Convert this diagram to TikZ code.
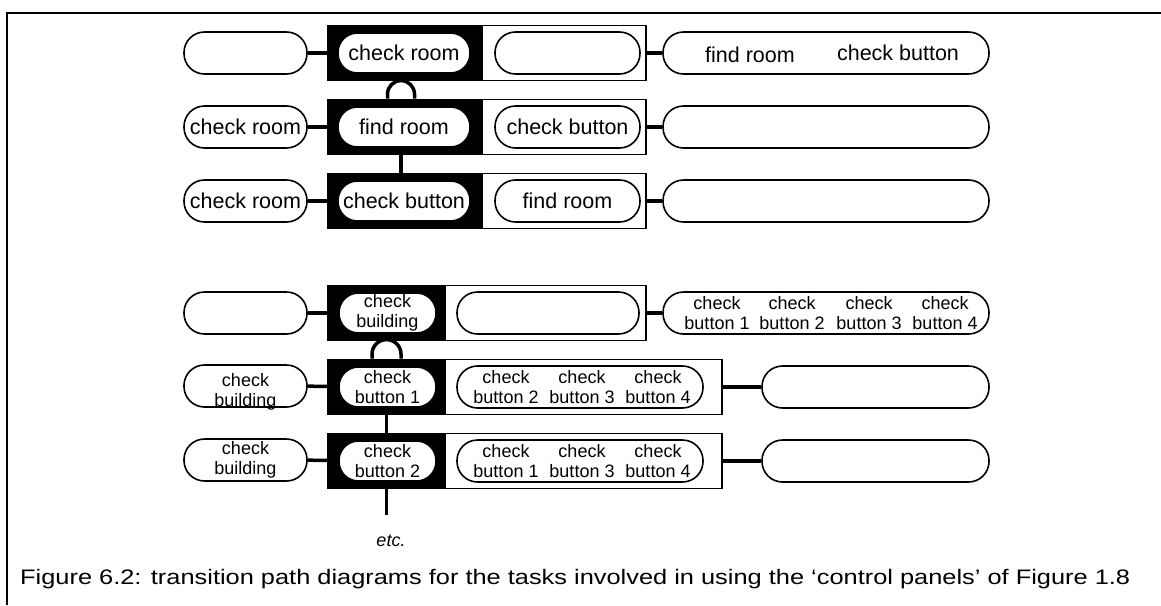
\documentclass[tikz,border=0pt]{standalone}
\usepackage{fontspec}
\setmainfont{Liberation Sans}
\usetikzlibrary{positioning}

\begin{document}
\begin{tikzpicture}[x=1pt,y=-1pt,
    pill/.style={draw,line width=1.6pt,fill=white,rounded corners=20.5pt,
      minimum width=#1,minimum height=42pt,inner sep=0pt,align=center},
    inpill/.style={pill=#1,minimum height=40pt,rounded corners=19.5pt},
    panel/.style={draw,line width=1.8pt,fill=white,minimum width=#1,
      minimum height=55pt,inner sep=0pt},
    blk/.style={fill=black,minimum width=#1,minimum height=55pt,inner sep=0pt},
    link/.style={line width=3.5pt},
    big/.style={font=\fontsize{21.5}{24}\selectfont},
    small/.style={font=\fontsize{18}{20}\selectfont,align=center,inner sep=0pt}]
    \useasboundingbox (0,0) rectangle (1161,605);
    % frame
    \draw[line width=1.4pt] (7,605) -- (7,13) -- (1161,13);
    \coordinate (j1) at (401,0);
    \coordinate (j2) at (386.5,0);
    % first diagram
    \node[panel=318pt] (pn1) at (487,53) {};
    \node[blk=155pt] (bk1) at (405.5,53) {};
    \node[inpill=132pt,big] (ip1) at (404,53) {check room};
    \node[pill=145pt] (wp1) at (567.5,53) {};
    \node[pill=123pt] (lp1) at (245.5,53) {};
    \node[pill=326pt] (rp1) at (826,53) {};
    \node[big] (fr1) at (750,55) {find room};
    \node[big] (cb1) at (898,53) {check button};
    \draw[link] (lp1) -- (pn1);
    \draw[link] (pn1) -- (rp1);

    \node[panel=318pt] (pn2) at (487,127) {};
    \node[blk=155pt] (bk2) at (405.5,127) {};
    \node[inpill=132pt,big] (ip2) at (404,127) {find room};
    \node[pill=145pt,big] (wp2) at (567.5,127) {check button};
    \node[pill=123pt,big] (lp2) at (245.5,127) {check room};
    \node[pill=326pt] (rp2) at (826,127) {};
    \draw[link] (lp2) -- (pn2);
    \draw[link] (pn2) -- (rp2);

    \node[panel=318pt] (pn3) at (487,201) {};
    \node[blk=155pt] (bk3) at (405.5,201) {};
    \node[inpill=132pt,big] (ip3) at (404,201) {check button};
    \node[pill=145pt,big] (wp3) at (567.5,201) {find room};
    \node[pill=123pt,big] (lp3) at (245.5,201) {check room};
    \node[pill=326pt] (rp3) at (826,201) {};
    \draw[link] (lp3) -- (pn3);
    \draw[link] (pn3) -- (rp3);

    \draw[link] ([xshift=-13.5pt]pn2.north -| j1) -- ++(0,-4.5)
      arc[start angle=180,end angle=0,radius=13.5pt] -- ([xshift=13.5pt]pn2.north -| j1);
    \draw[link] (pn2.south -| j1) -- (pn3.north -| j1);

    % second diagram
    \node[panel=318pt] (pn4) at (487,313) {};
    \node[blk=118pt] (bk4) at (387,313) {};
    \node[inpill=97pt,small] (ip4) at (387.5,313) {check\\building};
    \node[pill=182pt] (wp4) at (548,313) {};
    \node[pill=123pt] (lp4) at (245.5,313) {};
    \node[pill=326pt] (rp4) at (826,313) {};
    \node[small] (cb41) at (717,313) {check\\button 1};
    \node[small] (cb42) at (792,313) {check\\button 2};
    \node[small] (cb43) at (869,313) {check\\button 3};
    \node[small] (cb44) at (945,313) {check\\button 4};
    \draw[link] (lp4) -- (pn4);
    \draw[link] (pn4) -- (rp4);

    \node[panel=394pt] (pn5) at (525,387) {};
    \node[blk=118pt] (bk5) at (387,387) {};
    \node[inpill=97pt,small] (ip5) at (387.5,387) {check\\button 1};
    \node[pill=246pt] (wp5) at (580,387) {};
    \node[small] (cb52) at (506,387) {check\\button 2};
    \node[small] (cb53) at (582,387) {check\\button 3};
    \node[small] (cb54) at (658,387) {check\\button 4};
    \node[pill=123pt] (lp5) at (245.5,386) {};
    \node[small] (cg5) at (245.5,392) {check\\building};
    \node[pill=227pt] (rp5) at (875.5,387) {};
    \draw[link] (lp5) -- (pn5);
    \draw[link] (pn5) -- (rp5);

    \node[panel=394pt] (pn6) at (525,461) {};
    \node[blk=118pt] (bk6) at (387,461) {};
    \node[inpill=97pt,small] (ip6) at (387.5,461) {check\\button 2};
    \node[pill=246pt] (wp6) at (580,461) {};
    \node[small] (cb61) at (506,461) {check\\button 1};
    \node[small] (cb63) at (582,461) {check\\button 3};
    \node[small] (cb64) at (658,461) {check\\button 4};
    \node[pill=123pt,small] (lp6) at (245.5,460) {check\\building};
    \node[pill=227pt] (rp6) at (875.5,461) {};
    \draw[link] (lp6) -- (pn6);
    \draw[link] (pn6) -- (rp6);

    \draw[link] ([xshift=-14.5pt]pn5.north -| j2) -- ++(0,-4.5)
      arc[start angle=180,end angle=0,radius=14.5pt] -- ([xshift=14.5pt]pn5.north -| j2);
    \draw[link] (pn5.south -| j2) -- (pn6.north -| j2);

    \coordinate (e1) at (386.5,515);
    \node[small,font=\fontsize{18}{20}\selectfont\itshape,anchor=base] (etc) at (391,546) {etc.};
    \draw[link] (pn6.south -| j2) -- (e1);

    % caption
    \node[anchor=base west,inner sep=0pt] (cap) at (20,584)
      {\resizebox{1110pt}{\height}{\fontsize{21}{24}\selectfont Figure 6.2: transition path diagrams for the tasks involved in using the ‘control panels’ of Figure~1.8}};
\end{tikzpicture}
\end{document}
